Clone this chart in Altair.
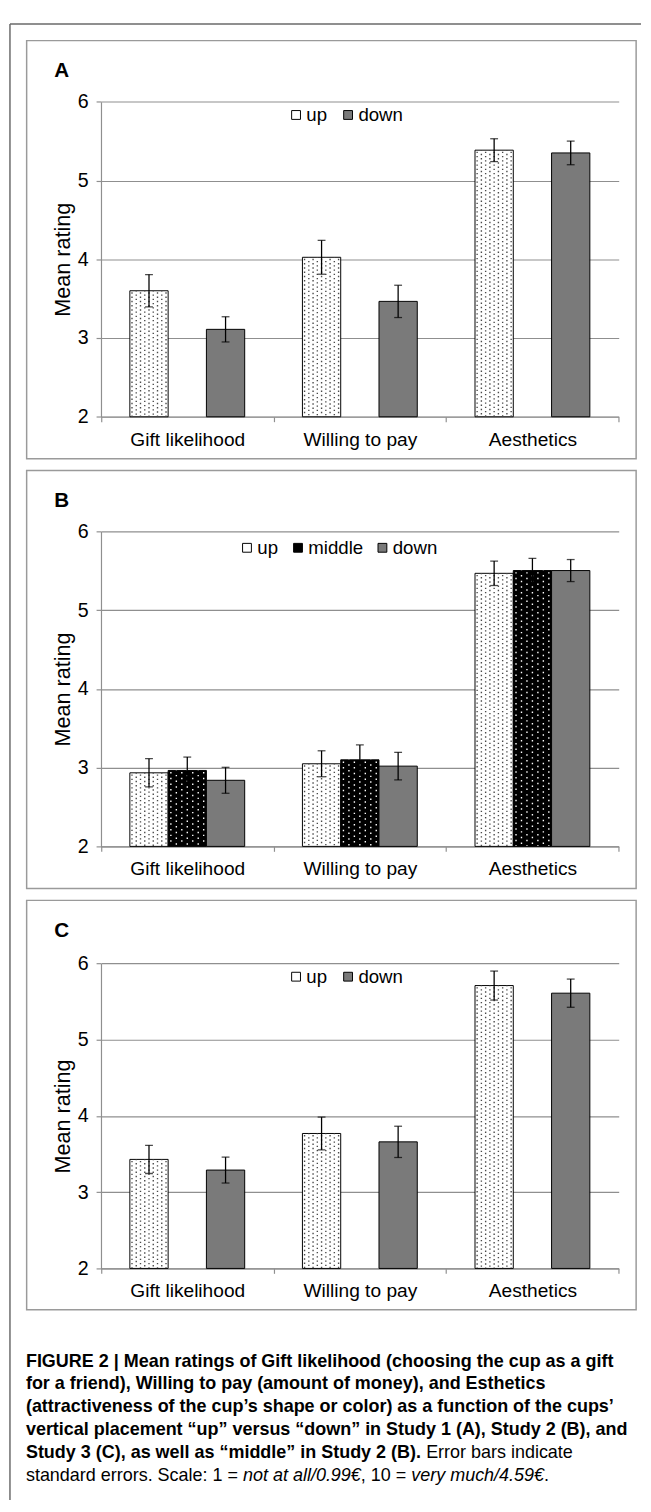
import math
import altair as alt
import pandas as pd

# ---------------- data ----------------
categories = ["Gift likelihood", "Willing to pay", "Aesthetics"]

a_up_mean = [3.60, 4.025, 5.385]
a_up_se = [0.205, 0.215, 0.145]
a_down_mean = [3.11, 3.465, 5.35]
a_down_se = [0.16, 0.205, 0.15]

b_up_mean = [2.935, 3.05, 5.47]
b_up_se = [0.18, 0.165, 0.155]
b_middle_mean = [2.965, 3.10, 5.505]
b_middle_se = [0.17, 0.19, 0.155]
b_down_mean = [2.84, 3.02, 5.505]
b_down_se = [0.165, 0.175, 0.14]

c_up_mean = [3.43, 3.77, 5.71]
c_up_se = [0.185, 0.215, 0.19]
c_down_mean = [3.29, 3.66, 5.61]
c_down_se = [0.17, 0.205, 0.185]

y_ticks = [2, 3, 4, 5, 6]

caption_lines = [
    [("FIGURE 2 | Mean ratings of Gift likelihood (choosing the cup as a gift", "bold")],
    [("for a friend), Willing to pay (amount of money), and Esthetics", "bold")],
    [("(attractiveness of the cup\u2019s shape or color) as a function of the cups\u2019", "bold")],
    [("vertical placement \u201cup\u201d versus \u201cdown\u201d in Study 1 (A), Study 2 (B), and", "bold")],
    [("Study 3 (C), as well as \u201cmiddle\u201d in Study 2 (B). ", "bold"), ("Error bars indicate", "normal")],
    [("standard errors. Scale: 1 = ", "normal"), ("not at all/0.99\u20ac", "italic"),
     (", 10 = ", "normal"), ("very much/4.59\u20ac", "italic"), (".", "normal")],
]

# ---------------- style ----------------
FONT = "Liberation Sans"
GRAY = "#8f8f8f"
FRAME = "#9a9a9a"
FILLS = {"up": "#ffffff", "middle": "#000000", "down": "#7a7a7a"}
# dotted texture: (columns per bar, dash on, dash off, dot colour)
TEXTURE = {"up": (9, 1.4, 2.93, "#4a4a4a"), "middle": (7, 1.5, 4.3, "#ffffff")}
PANEL_W = 621
X_RANGE = [75.75, 603.25]
BAND = (X_RANGE[1] - X_RANGE[0]) / 3.0
BAR_W = 39.0

# Arial-metric widths (per 1000 em) used to place mixed-style caption runs
W_REG = {" ": 278, ".": 278, ",": 278, ":": 278, "=": 584, "/": 278, "\u20ac": 556,
         "a": 556, "b": 556, "c": 500, "d": 556, "e": 556, "h": 556, "i": 222, "l": 222,
         "m": 833, "n": 556, "o": 556, "r": 333, "s": 500, "t": 278, "u": 556, "v": 500,
         "y": 500, "S": 667, "E": 667}
W_BOLD = {" ": 278, ".": 278, ",": 278, "(": 333, ")": 333, "\u201c": 500, "\u201d": 500,
          "S": 667, "B": 722, "C": 722, "t": 333, "u": 611, "d": 611, "y": 556, "a": 556,
          "s": 556, "w": 778, "e": 556, "l": 278, "m": 889, "i": 278, "n": 611}


def text_width(s, style, size):
    table = W_BOLD if style == "bold" else W_REG
    return sum(table.get(ch, 556) for ch in s) / 1000.0 * size


def panel(letter, series, height, y_range, legend_xy, col_pad, outer=False):
    groups = [s[0] for s in series]
    rows = []
    for g, means, ses in series:
        for c, m, s in zip(categories, means, ses):
            rows.append({"category": c, "group": g, "mean": m, "lo": m - s, "hi": m + s})
    df = pd.DataFrame(rows)

    if len(groups) == 2:
        off_scale = alt.Scale(domain=groups, paddingInner=0.5, paddingOuter=0.377)
        slot_groups = [groups[0], "gap", groups[1]]
    else:
        off_scale = alt.Scale(domain=groups, paddingInner=0.0, paddingOuter=0.754)
        slot_groups = groups

    x = alt.X("category:N", sort=categories,
              scale=alt.Scale(domain=categories, range=X_RANGE, paddingInner=0, paddingOuter=0),
              axis=alt.Axis(title=None, orient="bottom", offset=y_range[0] - height,
                            tickBand="extent", labelAngle=0, labelFontSize=19.5,
                            labelFont=FONT, labelColor="black", labelPadding=9,
                            tickSize=5, tickColor=GRAY, tickWidth=1.2,
                            domainColor=GRAY, domainWidth=1.2, grid=False))
    xo = alt.XOffset("group:N", sort=groups, scale=off_scale)
    yscale = alt.Scale(domain=[2, 6], range=y_range, nice=False, zero=False)
    yaxis = alt.Axis(title="Mean rating", values=y_ticks, format="d", orient="left",
                     offset=-X_RANGE[0], grid=True, gridColor=GRAY, gridWidth=1.2,
                     domainColor=GRAY, domainWidth=1.2, tickColor=GRAY, tickWidth=1.2,
                     tickSize=5, labelFontSize=20, labelFont=FONT, labelColor="black",
                     labelPadding=8, titleFont=FONT, titleFontSize=22,
                     titleFontWeight="normal", titleColor="black", titlePadding=3)

    def ypos(field):
        return alt.Y(f"{field}:Q", scale=yscale, axis=yaxis)

    base = alt.Chart(df)
    lx, ly = legend_xy
    bars = base.mark_bar(stroke="black", strokeWidth=1).encode(
        x=x, xOffset=xo, y=ypos("mean"), y2=alt.datum(2),
        color=alt.Color("group:N", sort=groups,
                        scale=alt.Scale(domain=groups, range=[FILLS[g] for g in groups]),
                        legend=alt.Legend(orient="none", legendX=lx, legendY=ly,
                                          direction="horizontal", title=None,
                                          symbolType="square", symbolSize=81,
                                          symbolStrokeColor="black", symbolStrokeWidth=1,
                                          labelFontSize=19, labelFont=FONT,
                                          labelColor="black", labelOffset=1,
                                          columnPadding=col_pad, padding=0)),
    )

    # dotted fill texture for the patterned series (columns of dotted rules)
    tex_layers = []
    for g in groups:
        if g not in TEXTURE:
            continue
        ncols, on, off, dot = TEXTURE[g]
        period = on + off
        slot_w = BAR_W / ncols
        pad_out = (BAND - len(slot_groups) * BAR_W) / 2.0 / slot_w
        n_pad = int(math.floor(pad_out))
        frac = pad_out - n_pad
        slots = ([f"padL{k}" for k in range(n_pad)]
                 + [f"{sg}{k}" for sg in slot_groups for k in range(ncols)]
                 + [f"padR{k}" for k in range(n_pad)])
        trows = []
        for c, m in zip(df.loc[df.group == g, "category"], df.loc[df.group == g, "mean"]):
            for k in range(ncols):
                trows.append({"category": c, "slot": f"{g}{k}", "parity": k % 2, "mean": m})
        tdf = pd.DataFrame(trows)
        txo = alt.XOffset("slot:N", sort=slots,
                          scale=alt.Scale(domain=slots, paddingInner=0, paddingOuter=frac))
        for parity in (0, 1):
            start = (period - 1.6) - parity * period / 2.0
            tex_layers.append(
                alt.Chart(tdf).transform_filter(alt.datum.parity == parity)
                .mark_rule(color=dot, strokeWidth=1.4, strokeDash=[on, off],
                           strokeDashOffset=start)
                .encode(x=x, xOffset=txo, y=ypos("mean"), y2=alt.datum(2.005)))

    err = base.mark_rule(color="black", strokeWidth=1.3).encode(
        x=x, xOffset=xo, y=ypos("lo"), y2="hi:Q")
    cap_lo = base.mark_tick(color="black", thickness=1.3, size=8).encode(
        x=x, xOffset=xo, y=ypos("lo"))
    cap_hi = base.mark_tick(color="black", thickness=1.3, size=8).encode(
        x=x, xOffset=xo, y=ypos("hi"))

    lab = alt.Chart(pd.DataFrame({"label": [letter]})).mark_text(
        font=FONT, fontSize=21, fontWeight="bold", align="left", baseline="alphabetic",
        color="black").encode(x=alt.value(28), y=alt.value(37.5), text="label:N")

    layers = [bars] + tex_layers + [err, cap_lo, cap_hi, lab]
    if outer:
        one = alt.Chart(pd.DataFrame({"k": [0]}))
        layers.append(one.mark_rule(color="#6a6a6a", strokeWidth=1.5).encode(
            x=alt.value(-17), x2=alt.value(626), y=alt.value(-17)))
        layers.append(one.mark_rule(color="#6a6a6a", strokeWidth=1.5).encode(
            x=alt.value(-17), y=alt.value(-17), y2=alt.value(1487)))

    return alt.layer(*layers).resolve_scale(xOffset="independent").properties(
        width=PANEL_W, height=height,
        view=alt.ViewBackground(stroke=FRAME, strokeWidth=1.5, fill="white"))


pA = panel("A", [("up", a_up_mean, a_up_se), ("down", a_down_mean, a_down_se)],
           426, [383.25, 62.25], (265, 66), 11, outer=True)
pB = panel("B", [("up", b_up_mean, b_up_se), ("middle", b_middle_mean, b_middle_se),
                 ("down", b_down_mean, b_down_se)],
           426, [383.0, 62.25], (215, 69), 10)
pC = panel("C", [("up", c_up_mean, c_up_se), ("down", c_down_mean, c_down_se)],
           417, [375.0, 64.25], (265, 68), 11)

# ---------------- caption ----------------
CAP_SIZE = 18.3
CAP_X0 = -0.75
CAP_Y0 = 46.0
CAP_DY = 23.3
cap_layers = []
one_row = pd.DataFrame({"k": [0]})
for i, line in enumerate(caption_lines):
    xpos = CAP_X0
    for txt, style in line:
        kw = dict(font=FONT, fontSize=CAP_SIZE, align="left", baseline="alphabetic",
                  color="black")
        if style == "bold":
            kw["fontWeight"] = "bold"
        if style == "italic":
            kw["fontStyle"] = "italic"
        cap_layers.append(alt.Chart(one_row).mark_text(**kw).encode(
            x=alt.value(xpos), y=alt.value(CAP_Y0 + i * CAP_DY), text=alt.value(txt)))
        xpos += text_width(txt, style, CAP_SIZE)

caption = alt.layer(*cap_layers).properties(
    width=PANEL_W, height=150,
    view=alt.ViewBackground(stroke="transparent", strokeWidth=0))

chart = alt.vconcat(pA, pB, pC, caption, spacing=12, bounds="flush").properties(
    padding=0, background="white"
).resolve_scale(color="independent", y="independent", x="independent", xOffset="independent"
).configure(font=FONT)

chart.save("out.html", embed_options={"renderer": "svg", "actions": False})
